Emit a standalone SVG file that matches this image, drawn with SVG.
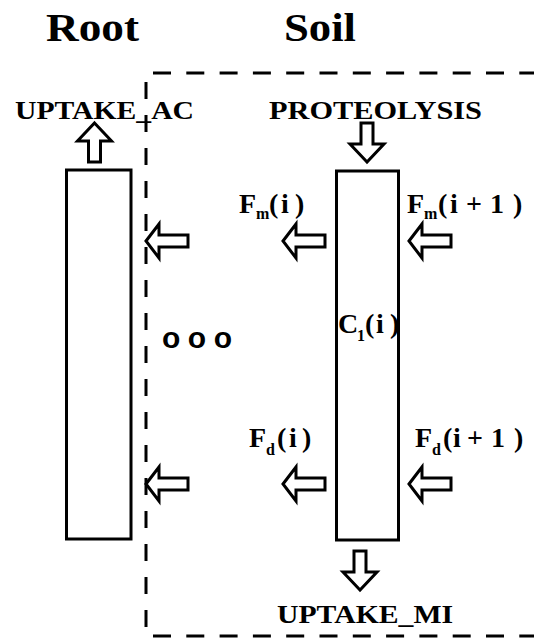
<svg xmlns="http://www.w3.org/2000/svg" width="534" height="639" viewBox="0 0 534 639">
<style>
.box{fill:#fff;stroke:#000;stroke-width:3}
.arr{fill:#fff;stroke:#000;stroke-width:3;stroke-linejoin:miter}
.dash{fill:none;stroke:#000;stroke-width:3}
.t{font-family:"Liberation Serif","Times New Roman",serif;font-weight:bold;fill:#000}
.m{font-family:"Liberation Serif","Times New Roman",serif;font-weight:bold;fill:#000;font-size:28px}
.s{font-size:16px}
</style>
<defs>
<path id="la" d="M0,0 L13,-17 L13,-6 L42,-6 L42,6 L13,6 L13,17 Z"/>
<path id="va" d="M0,0 L17,18 L6,18 L6,39 L-6,39 L-6,18 L-17,18 Z"/>
</defs>
<rect width="534" height="639" fill="#fff"/>
<g id="boundary">
<line class="dash" x1="146" y1="82" x2="146" y2="636" stroke-dasharray="17 16"/>
<line class="dash" x1="153" y1="73" x2="534" y2="73" stroke-dasharray="18 15.3"/>
<line class="dash" x1="153" y1="636" x2="534" y2="636" stroke-dasharray="18 15.3"/>
</g>
<g id="titles">
<text class="t" x="46" y="41" font-size="41" textLength="93" lengthAdjust="spacingAndGlyphs">Root</text>
<text class="t" x="284" y="41" font-size="41" textLength="72" lengthAdjust="spacingAndGlyphs">Soil</text>
</g>
<g id="root">
<rect class="box" x="66.5" y="170" width="64.5" height="369"/>
</g>
<g id="soil">
<rect class="box" x="336.5" y="171" width="62" height="369"/>
<text class="m" x="338" y="333">C<tspan class="s" x="357" y="341">1</tspan><tspan x="365 376 390" y="333">(i)</tspan></text>
</g>
<g id="uptake-ac">
<text class="t" x="15" y="119" font-size="26" textLength="179" lengthAdjust="spacingAndGlyphs">UPTAKE_AC</text>
</g>
<g id="proteolysis">
<text class="t" x="269" y="119" font-size="26" textLength="213" lengthAdjust="spacingAndGlyphs">PROTEOLYSIS</text>
</g>
<g id="uptake-mi">
<text class="t" x="277" y="623" font-size="26" textLength="176" lengthAdjust="spacingAndGlyphs">UPTAKE_MI</text>
</g>
<g id="labels">
<text class="m" x="239" y="213">F<tspan class="s" x="256" y="219">m</tspan><tspan x="269 281 295" y="213">(i)</tspan></text>
<text class="m" x="407" y="213">F<tspan class="s" x="424" y="219">m</tspan><tspan x="438 450 466 490 513" y="213">(i+1)</tspan></text>
<text class="m" x="249" y="447">F<tspan class="s" x="266" y="455">d</tspan><tspan x="277 289 302" y="447">(i)</tspan></text>
<text class="m" x="415" y="447">F<tspan class="s" x="432" y="455">d</tspan><tspan x="443 453 467 491 514" y="447">(i+1)</tspan></text>
<text x="162" y="348" font-family="'Liberation Sans',Arial,sans-serif" font-weight="bold" font-size="30" letter-spacing="7.5">ooo</text>
</g>
<g id="connectors">
<use href="#la" class="arr" x="146" y="241"/>
<use href="#la" class="arr" x="283" y="241"/>
<use href="#la" class="arr" x="409" y="241"/>
<use href="#la" class="arr" x="146" y="484"/>
<use href="#la" class="arr" x="283" y="484"/>
<use href="#la" class="arr" x="409" y="484"/>
<use href="#va" class="arr" x="94.5" y="123"/>
<use href="#va" class="arr" transform="translate(367,162) rotate(180)"/>
<use href="#va" class="arr" transform="translate(360,590) rotate(180)"/>
</g>
</svg>
